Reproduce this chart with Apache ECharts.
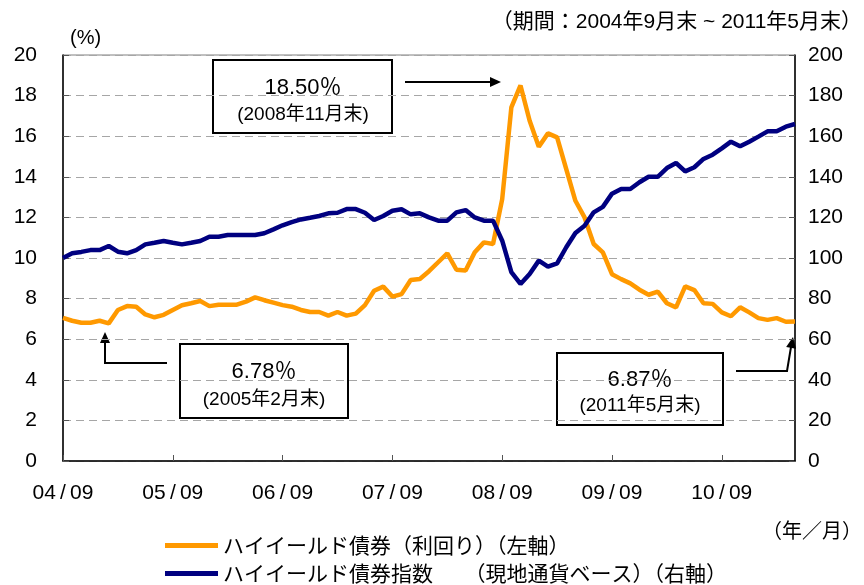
<!DOCTYPE html>
<html>
<head>
<meta charset="utf-8">
<script src="https://cdn.jsdelivr.net/npm/echarts@6/dist/echarts.min.js"></script>
<style>
  html, body { margin: 0; padding: 0; background: #fff; }
  #main { width: 864px; height: 585px; }
</style>
</head>
<body>
<div id="main"></div>
<script>
// 月次データ 2004/09 ~ 2011/05
const startYear = 2004;
const startMonth = 9;
const monthCount = 81;

const yieldName = "ハイイールド債券（利回り）（左軸）";
const indexName = "ハイイールド債券指数　　（現地通貨ベース）（右軸）";

// 利回り (%)
const yieldValues = [
  7.05, 6.91, 6.81, 6.81, 6.91, 6.78, 7.44, 7.63, 7.6, 7.22,
  7.08, 7.2, 7.44, 7.67, 7.77, 7.88, 7.63, 7.7, 7.7, 7.7,
  7.85, 8.06, 7.92, 7.8, 7.68, 7.6, 7.44, 7.34, 7.34, 7.16,
  7.34, 7.16, 7.26, 7.68, 8.39, 8.59, 8.1, 8.22, 8.92, 8.97,
  9.35, 9.79, 10.23, 9.42, 9.38, 10.28, 10.77, 10.69, 12.9, 17.42,
  18.5, 16.76, 15.48, 16.14, 15.94, 14.38, 12.82, 12.0, 10.69, 10.28,
  9.2, 8.96, 8.75, 8.44, 8.19, 8.34, 7.77, 7.57, 8.6, 8.42,
  7.77, 7.74, 7.32, 7.13, 7.57, 7.32, 7.04, 6.95, 7.04, 6.86,
  6.87
];

// 指数 (2004/09 = 100)
const indexValues = [
  100, 102.3, 103, 103.9, 103.9, 105.9, 103.1, 102.3, 103.9, 106.7,
  107.5, 108.4, 107.5, 106.7, 107.5, 108.4, 110.5, 110.5, 111.3, 111.3,
  111.3, 111.3, 112.2, 114.1, 116.1, 117.7, 119, 119.8, 120.7, 122,
  122.3, 124.1, 124.1, 122.3, 118.7, 120.7, 123.3, 124, 121.5, 122,
  120, 118.4, 118.4, 122.5, 123.6, 120, 118.4, 118.4, 108.5, 93,
  87.2, 92.1, 98.7, 95.7, 97.4, 105.3, 112.3, 115.9, 122.5, 125.2,
  131.7, 134, 134, 137.3, 140, 140, 144.3, 146.8, 142.7, 144.7,
  148.8, 150.9, 154, 157.3, 155, 157.3, 159.8, 162.4, 162.4, 164.7,
  166
];

const leftTicks = { min: 0, max: 20, interval: 2 };
const rightTicks = { min: 0, max: 200, interval: 20 };

let categories = [];
for (let i = 0; i < monthCount; i++) {
  let m = startMonth - 1 + i;
  let y = startYear + Math.floor(m / 12);
  let mm = (m % 12) + 1;
  categories.push(String(y % 100).padStart(2, "0") + "/" + String(mm).padStart(2, "0"));
}

const font = "'Liberation Sans', 'Noto Sans CJK JP', sans-serif";
const cjk = "'Noto Sans CJK JP', sans-serif";

// 矢印の先端
function arrowHead(x1, y1, x2, y2) {
  let dx = x2 - x1, dy = y2 - y1;
  let len = Math.sqrt(dx * dx + dy * dy);
  let ux = dx / len, uy = dy / len;
  let L = 11, W = 5;
  return {
    type: "polygon",
    shape: { points: [[x2, y2], [x2 - ux * L - uy * W, y2 - uy * L + ux * W], [x2 - ux * L + uy * W, y2 - uy * L - ux * W]] },
    style: { fill: "#000" }
  };
}
function line(points) {
  return { type: "polyline", shape: { points: points }, style: { stroke: "#000", lineWidth: 2, fill: null } };
}
function box(x, y, w, h) {
  return { type: "rect", shape: { x: x, y: y, width: w, height: h }, style: { fill: "#fff", stroke: "#000", lineWidth: 2 } };
}
function label(x, y, text, size) {
  return { type: "text", x: x, y: y, style: { text: text, font: size + "px " + font, fill: "#000", align: "center", verticalAlign: "middle" } };
}

let chart = echarts.init(document.getElementById("main"));
chart.setOption({
  backgroundColor: "#fff",
  animation: false,
  textStyle: { fontFamily: font },
  grid: { left: 63, right: 69, top: 55, bottom: 124, show: true, borderColor: "#808080", borderWidth: 1 },
  legend: {
    orient: "vertical",
    left: 165,
    top: 535,
    height: 60,
    padding: 0,
    icon: "rect",
    itemWidth: 53,
    itemHeight: 5,
    itemGap: 7,
    textStyle: { fontSize: 21, color: "#000", lineHeight: 21, fontFamily: cjk },
    data: [yieldName, indexName]
  },
  xAxis: {
    type: "category",
    data: categories,
    boundaryGap: false,
    axisLine: { lineStyle: { color: "#000", width: 1.5 } },
    axisTick: { inside: true, length: 6, interval: function (i) { return i % 12 === 0; }, lineStyle: { color: "#555" } },
    axisLabel: {
      interval: function (i) { return i % 12 === 0; },
      formatter: function (v) { return v.replace("/", "\u2009/\u2009"); },
      margin: 22, fontSize: 21, color: "#000"
    },
    splitLine: { show: false }
  },
  yAxis: [
    {
      type: "value",
      min: leftTicks.min, max: leftTicks.max, interval: leftTicks.interval,
      axisLine: { show: true, lineStyle: { color: "#000", width: 1.5 } },
      axisTick: { show: true, inside: true, length: 6, lineStyle: { color: "#555" } },
      axisLabel: { margin: 26, fontSize: 21, color: "#000" },
      splitLine: { show: true, lineStyle: { color: "#a6a6a6", type: [8, 5], width: 1 } }
    },
    {
      type: "value",
      min: rightTicks.min, max: rightTicks.max, interval: rightTicks.interval,
      axisLine: { show: true, lineStyle: { color: "#000", width: 1.5 } },
      axisTick: { show: true, inside: true, length: 6, lineStyle: { color: "#555" } },
      axisLabel: { margin: 13, fontSize: 21, color: "#000" },
      splitLine: { show: false }
    }
  ],
  series: [
    {
      name: yieldName,
      type: "line",
      yAxisIndex: 0,
      data: yieldValues,
      symbol: "none",
      color: "#FF9900",
      lineStyle: { color: "#FF9900", width: 4.5 }
    },
    {
      name: indexName,
      type: "line",
      yAxisIndex: 1,
      data: indexValues,
      symbol: "none",
      color: "#000080",
      lineStyle: { color: "#000080", width: 4.5 }
    }
  ],
  graphic: [
    { type: "text", x: 70, y: 38, style: { text: "(%)", font: "20px " + font, fill: "#000", verticalAlign: "middle" } },
    { type: "text", x: 862, y: 22, style: { text: "（期間：2004年9月末 ~ 2011年5月末）", font: "21px " + font, fill: "#000", align: "right", verticalAlign: "middle" } },
    { type: "text", x: 862, y: 530, style: { text: "（年／月）", font: "20px " + cjk, fill: "#000", align: "right", verticalAlign: "middle" } },

    box(213, 60, 179, 73),
    label(303, 88, "18.50％", 22),
    label(303, 115, "(2008年11月末)", 19),
    line([[405, 82], [492, 82]]),
    arrowHead(405, 82, 501, 82),

    box(180, 344, 168, 74),
    label(264, 372, "6.78％", 22),
    label(264, 400, "(2005年2月末)", 19),
    line([[167, 363], [105, 363], [105, 342]]),
    arrowHead(105, 363, 105, 332),

    box(557, 353, 166, 72),
    label(640, 380, "6.87％", 22),
    label(640, 406, "(2011年5月末)", 19),
    line([[736, 371], [787, 371], [791, 347]]),
    arrowHead(787, 371, 793, 337)
  ]
});
</script>
</body>
</html>
